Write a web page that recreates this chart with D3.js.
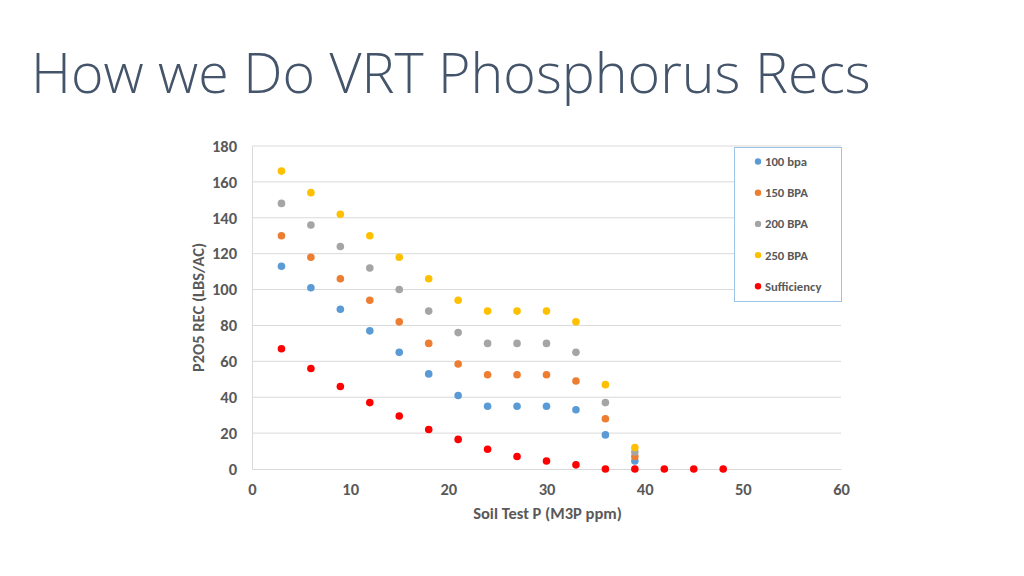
<!DOCTYPE html>
<html>
<head>
<meta charset="utf-8">
<script src="https://cdn.jsdelivr.net/npm/d3@7"></script>
<style>
  html, body { margin: 0; padding: 0; background: #fff; }
  svg { display: block; }
</style>
</head>
<body>
<svg id="chart" width="1024" height="576"></svg>
<script>
// ---- data ----
const titleText = "How we Do VRT Phosphorus Recs";
const xTitle = "Soil Test P (M3P ppm)";
const yTitle = "P2O5 REC (LBS/AC)";
const xTicks = [0, 10, 20, 30, 40, 50, 60];
const yTicks = [0, 20, 40, 60, 80, 100, 120, 140, 160, 180];

const soilP = [3, 6, 9, 12, 15, 18, 21, 24, 27, 30, 33, 36, 39];
const soilPSuff = [3, 6, 9, 12, 15, 18, 21, 24, 27, 30, 33, 36, 39, 42, 45, 48];

const rec100 = [113, 101, 89, 77, 65, 53, 41, 35, 35, 35, 33, 19, 4.5];
const rec150 = [130, 118, 106, 94, 82, 70, 58.5, 52.5, 52.5, 52.5, 49, 28, 7];
const rec200 = [148, 136, 124, 112, 100, 88, 76, 70, 70, 70, 65, 37, 9.5];
const rec250 = [166, 154, 142, 130, 118, 106, 94, 88, 88, 88, 82, 47, 12];
const recSuff = [67, 56, 46, 37, 29.5, 22, 16.5, 11, 7, 4.5, 2.3, 0, 0, 0, 0, 0];

const seriesNames = ["100 bpa", "150 BPA", "200 BPA", "250 BPA", "Sufficiency"];
const seriesColors = ["#5B9BD5", "#ED7D31", "#A5A5A5", "#FFC000", "#FF0000"];

const series = [
  { name: seriesNames[0], color: seriesColors[0], xs: soilP, ys: rec100 },
  { name: seriesNames[1], color: seriesColors[1], xs: soilP, ys: rec150 },
  { name: seriesNames[2], color: seriesColors[2], xs: soilP, ys: rec200 },
  { name: seriesNames[3], color: seriesColors[3], xs: soilP, ys: rec250 },
  { name: seriesNames[4], color: seriesColors[4], xs: soilPSuff, ys: recSuff }
];

// ---- layout ----
const svg = d3.select("#chart");
const plot = { left: 252, right: 841, top: 146, bottom: 469 };

const x = d3.scaleLinear().domain([0, 60]).range([plot.left, plot.right]);
const y = d3.scaleLinear().domain([0, 180]).range([plot.bottom, plot.top]);

// title
const title = svg.append("text")
  .attr("x", 31).attr("y", 93)
  .attr("font-family", "'Open Sans', 'Noto Sans', sans-serif")
  .attr("font-weight", 300)
  .attr("font-size", 56)
  .attr("fill", "#44546A")
  .text(titleText);
const tw = title.node().getComputedTextLength();
title.attr("font-size", 56 * 840 / tw);

// gridlines
svg.append("g")
  .selectAll("line")
  .data(yTicks.filter(d => d > 0))
  .join("line")
  .attr("x1", plot.left).attr("x2", plot.right)
  .attr("y1", d => y(d)).attr("y2", d => y(d))
  .attr("stroke", "#D9D9D9").attr("stroke-width", 1);

// axes
const tickFont = "'Carlito', 'Open Sans', 'Noto Sans', sans-serif";
const yAxis = svg.append("g")
  .attr("transform", `translate(${plot.left},0)`)
  .call(d3.axisLeft(y).tickValues(yTicks).tickSize(0).tickPadding(15));
yAxis.select(".domain").attr("stroke", "#D9D9D9");
yAxis.selectAll("text")
  .attr("font-family", tickFont).attr("font-size", 16.5).attr("font-weight", 700)
  .attr("fill", "#595959");

const xAxis = svg.append("g")
  .attr("transform", `translate(0,${plot.bottom})`)
  .call(d3.axisBottom(x).tickValues(xTicks).tickSize(0).tickPadding(14));
xAxis.select(".domain").attr("stroke", "#D9D9D9");
xAxis.selectAll("text")
  .attr("font-family", tickFont).attr("font-size", 16.5).attr("font-weight", 700)
  .attr("fill", "#595959");

// axis titles
svg.append("text")
  .attr("x", (plot.left + plot.right) / 2 + 1).attr("y", 519)
  .attr("text-anchor", "middle")
  .attr("font-family", tickFont).attr("font-size", 16.5).attr("font-weight", 700)
  .attr("fill", "#595959")
  .text(xTitle);

svg.append("text")
  .attr("transform", `translate(204,${(plot.top + plot.bottom) / 2}) rotate(-90)`)
  .attr("text-anchor", "middle")
  .attr("font-family", tickFont).attr("font-size", 16.5).attr("font-weight", 700)
  .attr("fill", "#595959")
  .text(yTitle);

// points
const pts = svg.append("g");
series.forEach(s => {
  pts.append("g")
    .selectAll("circle")
    .data(s.xs.map((xv, i) => [xv, s.ys[i]]))
    .join("circle")
    .attr("cx", d => x(d[0]))
    .attr("cy", d => y(d[1]))
    .attr("r", 3.8)
    .attr("fill", s.color);
});

// legend
const legend = svg.append("g");
legend.append("rect")
  .attr("x", 734.5).attr("y", 147.5).attr("width", 107).attr("height", 154)
  .attr("fill", "#fff").attr("stroke", "#9DC3E6").attr("stroke-width", 1);
const items = legend.selectAll("g.item")
  .data(series)
  .join("g")
  .attr("class", "item")
  .attr("transform", (d, i) => `translate(758,${161.5 + i * 31.2})`);
items.append("circle").attr("r", 3.2).attr("fill", d => d.color);
items.append("text")
  .attr("x", 7).attr("dy", "0.35em")
  .attr("font-family", tickFont).attr("font-size", 12.7).attr("font-weight", 700)
  .attr("fill", "#595959")
  .text(d => d.name);
</script>
</body>
</html>
